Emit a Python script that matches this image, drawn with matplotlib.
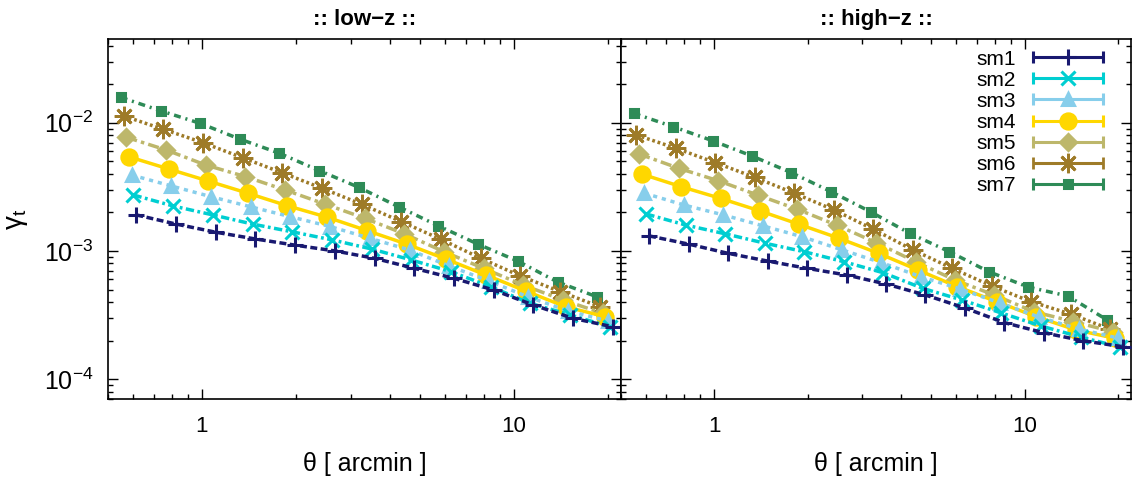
import numpy as np
import matplotlib
matplotlib.use("Agg")
import matplotlib.pyplot as plt
from matplotlib.legend_handler import HandlerErrorbar

plt.rcParams['font.family'] = ['Liberation Sans', 'DejaVu Sans']
plt.rcParams['mathtext.fontset'] = 'custom'
plt.rcParams['mathtext.rm'] = 'Liberation Sans'
plt.rcParams['lines.scale_dashes'] = False

# bin centres [arcmin] and small per-sample shift of the mean theta
theta = [0.583, 0.782, 1.047, 1.403, 1.879, 2.523, 3.381, 4.529, 6.067, 8.128, 10.89, 14.62, 19.59]
theta_shift = [1.057, 1.035, 1.021, 1.0, 0.982, 0.962, 0.942]

labels = ['sm1', 'sm2', 'sm3', 'sm4', 'sm5', 'sm6', 'sm7']

lowz_sm1 = [1.91e-3, 1.62e-3, 1.40e-3, 1.24e-3, 1.11e-3, 1.00e-3, 8.76e-4, 7.32e-4, 6.12e-4, 4.96e-4, 3.79e-4, 2.98e-4, 2.56e-4]
lowz_sm2 = [2.73e-3, 2.24e-3, 1.91e-3, 1.62e-3, 1.41e-3, 1.22e-3, 1.035e-3, 8.50e-4, 6.89e-4, 5.26e-4, 3.90e-4, 3.17e-4, 2.56e-4]
lowz_sm3 = [3.91e-3, 3.21e-3, 2.65e-3, 2.21e-3, 1.85e-3, 1.55e-3, 1.255e-3, 1.017e-3, 7.63e-4, 5.83e-4, 4.37e-4, 3.40e-4, 2.84e-4]
lowz_sm4 = [5.43e-3, 4.36e-3, 3.51e-3, 2.82e-3, 2.25e-3, 1.83e-3, 1.44e-3, 1.13e-3, 8.61e-4, 6.49e-4, 4.87e-4, 3.67e-4, 3.07e-4]
lowz_sm5 = [7.70e-3, 6.13e-3, 4.68e-3, 3.80e-3, 2.99e-3, 2.32e-3, 1.80e-3, 1.36e-3, 9.87e-4, 7.32e-4, 5.42e-4, 4.14e-4, 3.26e-4]
lowz_sm6 = [1.13e-2, 8.89e-3, 6.99e-3, 5.33e-3, 4.07e-3, 3.08e-3, 2.31e-3, 1.69e-3, 1.23e-3, 8.77e-4, 6.37e-4, 4.81e-4, 3.67e-4]
lowz_sm7 = [1.58e-2, 1.24e-2, 9.90e-3, 7.46e-3, 5.78e-3, 4.23e-3, 3.13e-3, 2.21e-3, 1.57e-3, 1.13e-3, 8.35e-4, 5.73e-4, 4.38e-4]

highz_sm1 = [1.31e-3, 1.13e-3, 9.58e-4, 8.34e-4, 7.32e-4, 6.49e-4, 5.52e-4, 4.53e-4, 3.59e-4, 2.76e-4, 2.30e-4, 1.99e-4, 1.79e-4]
highz_sm2 = [1.94e-3, 1.59e-3, 1.36e-3, 1.15e-3, 9.87e-4, 8.24e-4, 6.76e-4, 5.11e-4, 4.14e-4, 3.28e-4, 2.60e-4, 2.13e-4, 1.78e-4]
highz_sm3 = [2.82e-3, 2.28e-3, 1.91e-3, 1.57e-3, 1.29e-3, 1.02e-3, 8.10e-4, 6.30e-4, 5.05e-4, 3.93e-4, 3.05e-4, 2.46e-4, 2.09e-4]
highz_sm4 = [3.98e-3, 3.17e-3, 2.57e-3, 2.05e-3, 1.61e-3, 1.255e-3, 9.58e-4, 7.10e-4, 5.26e-4, 4.02e-4, 3.07e-4, 2.42e-4, 2.08e-4]
highz_sm5 = [5.70e-3, 4.41e-3, 3.53e-3, 2.73e-3, 2.12e-3, 1.59e-3, 1.16e-3, 8.24e-4, 5.93e-4, 4.53e-4, 3.36e-4, 2.81e-4, 2.34e-4]
highz_sm6 = [8.02e-3, 6.32e-3, 4.88e-3, 3.75e-3, 2.82e-3, 2.09e-3, 1.475e-3, 1.02e-3, 7.32e-4, 5.33e-4, 4.02e-4, 3.22e-4, 2.45e-4]
highz_sm7 = [1.185e-2, 9.31e-3, 7.24e-3, 5.50e-3, 4.08e-3, 2.90e-3, 2.02e-3, 1.37e-3, 9.87e-4, 6.89e-4, 5.23e-4, 4.45e-4, 2.89e-4]

lowz = [lowz_sm1, lowz_sm2, lowz_sm3, lowz_sm4, lowz_sm5, lowz_sm6, lowz_sm7]
highz = [highz_sm1, highz_sm2, highz_sm3, highz_sm4, highz_sm5, highz_sm6, highz_sm7]

colors = ['#191970', '#00ced1', '#87ceeb', '#ffd700', '#bdb76b', '#9e7b28', '#2e8b57']
markers = ['+', 'x', '^', 'o', 'D', (8, 2, 0), 's']
msizes = [11, 10, 9, 11, 8, 14, 5.5]
mews = [2.2, 2.2, 2.2, 2.2, 2.2, 2.0, 2.2]
dashes = [(5, 2.5), (6, 2.5, 2, 2.5), (3, 3.5), None, (8, 3, 2.5, 3), (2, 2), (5, 3.5, 1.5, 3.5)]

fig = plt.figure(figsize=(11.32, 4.79), dpi=100)
ax1 = fig.add_axes([108 / 1132, 80 / 479, 513 / 1132, 360 / 479])
ax2 = fig.add_axes([621 / 1132, 80 / 479, 510 / 1132, 360 / 479])


def ylab(v, pos):
    return r'$\mathregular{10^{%d}}$' % round(np.log10(v))


for ax, data, title in [(ax1, lowz, ':: low\u2212z ::'), (ax2, highz, ':: high\u2212z ::')]:
    for i in range(7):
        x = np.array(theta) * theta_shift[i]
        line, = ax.plot(x, data[i], color=colors[i], lw=2.5, marker=markers[i],
                        ms=msizes[i], mew=mews[i], zorder=10 - i)
        if dashes[i] is not None:
            line.set_dashes(dashes[i])
    ax.set_xscale('log')
    ax.set_yscale('log')
    ax.set_xlim(0.5, 22)
    ax.set_ylim(7e-5, 0.045)
    ax.set_title(title, fontsize=16, fontweight='bold', pad=10)
    ax.set_xlabel('\u03b8 [ arcmin ]', fontsize=18, labelpad=11)
    ax.tick_params(which='both', direction='in', top=True, right=True, width=1)
    ax.tick_params(which='major', length=7)
    ax.tick_params(which='minor', length=3.5)
    ax.tick_params(axis='x', pad=12, labelsize=16)
    ax.tick_params(axis='y', pad=10.5, labelsize=18)
    ax.xaxis.set_major_formatter(matplotlib.ticker.FuncFormatter(lambda v, p: '%g' % v))
    ax.xaxis.set_minor_formatter(matplotlib.ticker.NullFormatter())
    ax.yaxis.set_major_formatter(matplotlib.ticker.FuncFormatter(ylab))
    for s in ax.spines.values():
        s.set_linewidth(1.2)

ax1.set_ylabel('\u03b3$_\\mathregular{t}$', fontsize=20, labelpad=10)
ax2.tick_params(axis='y', labelleft=False)

# legend proxies: horizontal error bar with caps and the point marker
handles = []
for i in range(7):
    h = ax2.errorbar([np.nan], [np.nan], xerr=[1.0], color=colors[i], ls='none',
                     marker=markers[i], ms=msizes[i], mew=mews[i], elinewidth=2.2,
                     capsize=4, capthick=2, label=labels[i])
    handles.append(h)

leg = ax2.legend(handles=handles, loc='upper right', bbox_to_anchor=(0.9745, 1.011),
                 fontsize=15, frameon=False, markerfirst=False, handlelength=3.4,
                 handletextpad=0.8, labelspacing=0.1, borderaxespad=0.3, borderpad=0.4,
                 handler_map={type(handles[0]): HandlerErrorbar(xerr_size=1.7, numpoints=1)})

fig.savefig('out.png', dpi=100)
